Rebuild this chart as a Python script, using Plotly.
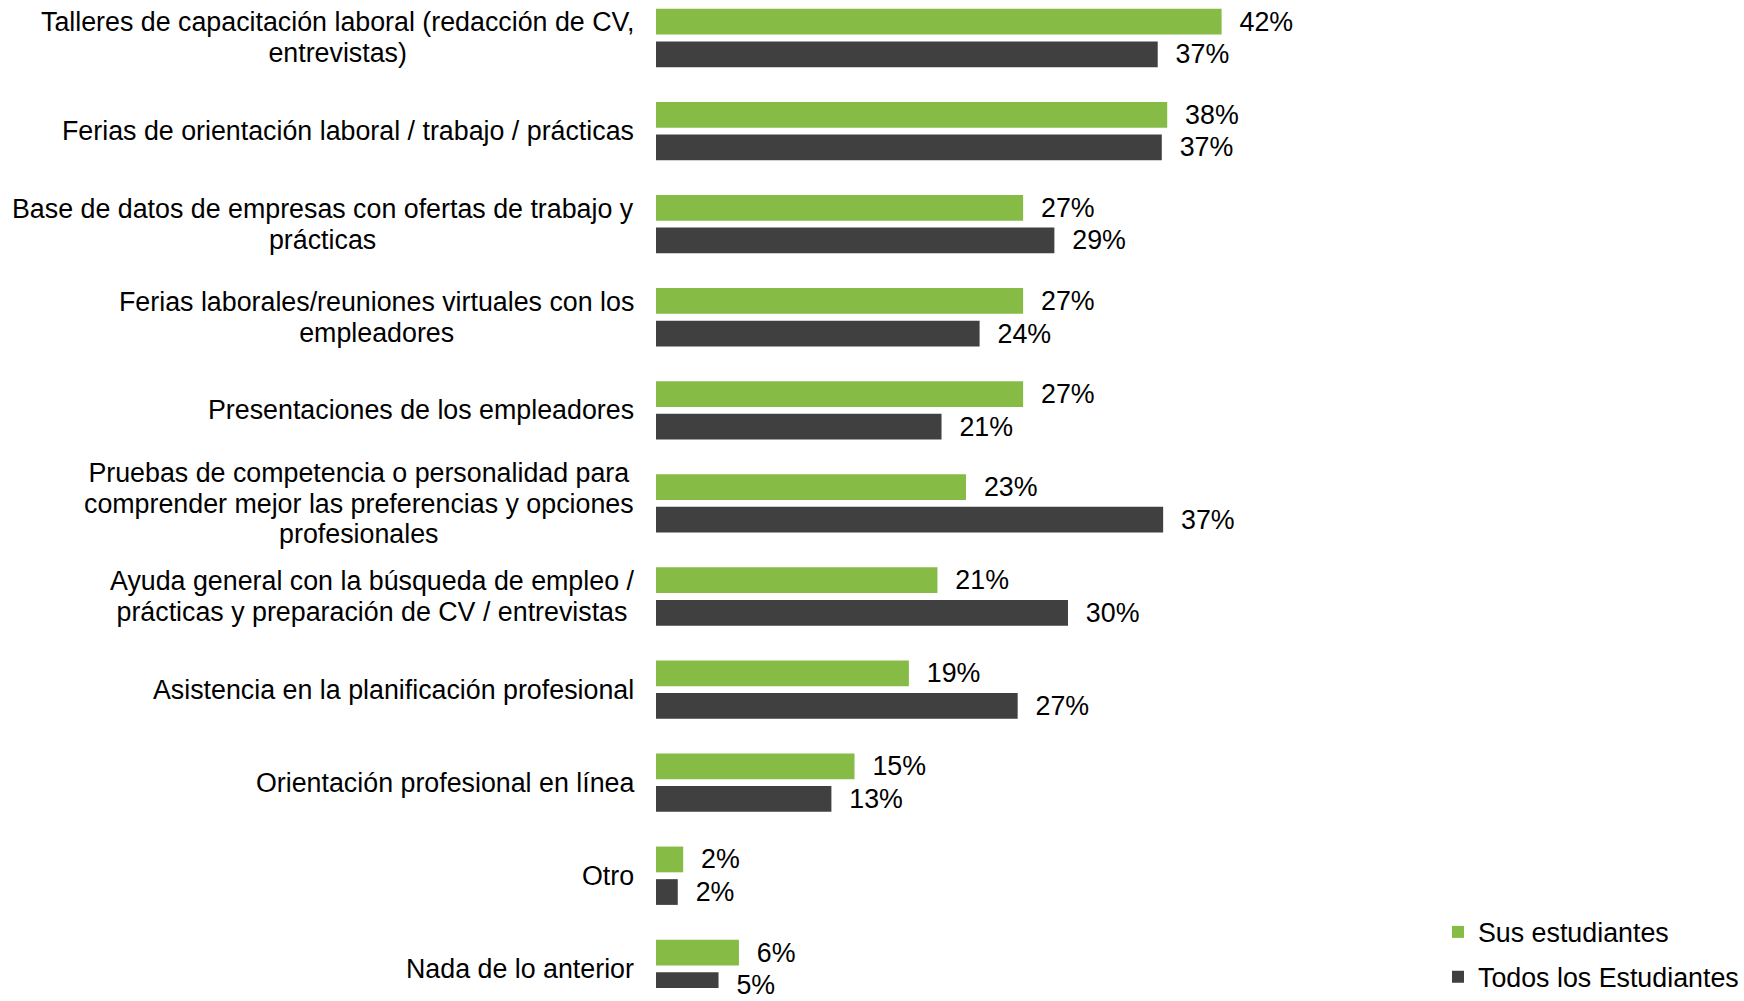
import plotly.graph_objects as go

categories = [
    "Talleres de capacitación laboral (redacción de CV,<br>entrevistas)",
    "Ferias de orientación laboral / trabajo / prácticas",
    "Base de datos de empresas con ofertas de trabajo y<br>prácticas",
    "Ferias laborales/reuniones virtuales con los<br>empleadores",
    "Presentaciones de los empleadores",
    "Pruebas de competencia o personalidad para<br>comprender mejor las preferencias y opciones<br>profesionales",
    "Ayuda general con la búsqueda de empleo /<br>prácticas y preparación de CV / entrevistas",
    "Asistencia en la planificación profesional",
    "Orientación profesional en línea",
    "Otro",
    "Nada de lo anterior",
]
sus_estudiantes = [41.6, 37.6, 27.0, 27.0, 27.0, 22.8, 20.7, 18.6, 14.6, 2.0, 6.1]
todos_estudiantes = [36.9, 37.2, 29.3, 23.8, 21.0, 37.3, 30.3, 26.6, 12.9, 1.6, 4.6]
series_names = ["Sus estudiantes", "Todos los Estudiantes"]
colors = ["#86BC46", "#404040"]

FONT = "Liberation Sans, Arial, sans-serif"
FS = 26.8
PAD = "\u00a0\u00a0"
idx = list(range(len(categories)))

fig = go.Figure()
for name, vals, col in zip(series_names, [sus_estudiantes, todos_estudiantes], colors):
    fig.add_trace(go.Bar(
        y=idx, x=vals, orientation="h", name=name, legendgroup=name,
        marker=dict(color=col, line=dict(width=0)),
        text=[f"{PAD}{round(v):d}%" for v in vals],
        textposition="outside", cliponaxis=False, constraintext="none",
        textfont=dict(family=FONT, size=FS, color="#000000"),
        hoverinfo="skip",
    ))

for i, c in enumerate(categories):
    lines = c.split("<br>")
    txt = "<br>".join(f"<span style='font-size:{FS}px'>{ln}</span>" for ln in lines)
    fig.add_annotation(
        x=-0.0245, xref="paper", y=i, yref="y", text=txt, showarrow=False,
        xanchor="right", yanchor="middle", align="center",
        font=dict(family=FONT, size=23.5, color="#000000"),
    )

fig.update_layout(
    width=1744, height=1001,
    margin=dict(l=656, r=272, t=0, b=0),
    paper_bgcolor="white", plot_bgcolor="white",
    barmode="group", bargap=0.30, bargroupgap=0.21,
    showlegend=True,
    legend=dict(
        x=0.967, y=0.0335, xanchor="left", yanchor="middle",
        font=dict(family=FONT, size=FS, color="#000000"),
        bgcolor="rgba(0,0,0,0)", itemwidth=30,
        traceorder="grouped", tracegroupgap=7,
    ),
    xaxis=dict(range=[0, 59.5], visible=False, showgrid=False, zeroline=False),
    yaxis=dict(range=[10.206, -0.408], showticklabels=False, showgrid=False,
               zeroline=False, showline=False, ticks=""),
    font=dict(family=FONT),
)

fig.write_html("out.html", config={"displayModeBar": False},
               post_script="document.body.style.margin='0';")
